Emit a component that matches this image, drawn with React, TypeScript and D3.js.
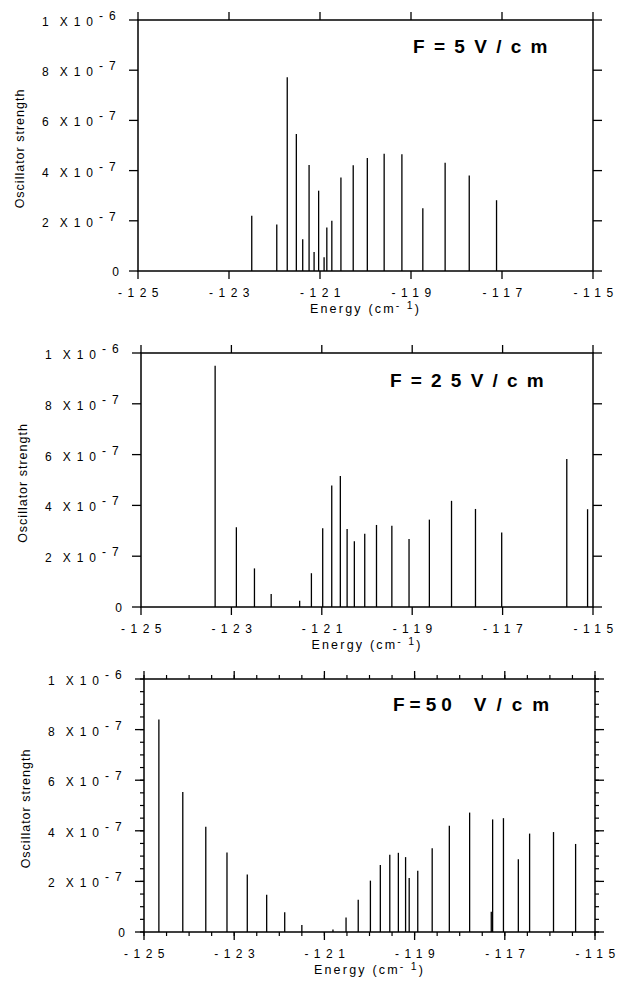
import React from "react";
import * as d3 from "d3";

// line energies (cm^-1) and oscillator strengths (units of 1e-7)
const energies5 = [-122.5, -121.95, -121.72, -121.52, -121.38, -121.24, -121.13, -121.03, -120.91, -120.85, -120.74, -120.54, -120.27, -119.96, -119.59, -119.2, -118.74, -118.25, -117.72, -117.12];
const strengths5 = [2.2, 1.85, 7.72, 5.46, 1.26, 4.22, 0.76, 3.2, 0.55, 1.73, 2.0, 3.73, 4.21, 4.5, 4.67, 4.65, 2.5, 4.31, 3.8, 2.82];

const energies25 = [-123.36, -122.89, -122.49, -122.12, -121.49, -121.23, -120.98, -120.78, -120.59, -120.44, -120.28, -120.05, -119.79, -119.45, -119.07, -118.62, -118.13, -117.6, -117.02, -115.58, -115.12];
const strengths25 = [9.5, 3.14, 1.52, 0.51, 0.25, 1.33, 3.1, 4.78, 5.16, 3.07, 2.59, 2.88, 3.23, 3.2, 2.68, 3.44, 4.18, 3.86, 2.93, 5.83, 3.85];

const energies50 = [-124.67, -124.14, -123.63, -123.16, -122.71, -122.28, -121.88, -121.5, -120.81, -120.52, -120.25, -119.98, -119.76, -119.55, -119.36, -119.2, -119.12, -118.93, -118.61, -118.23, -117.78, -117.3, -117.27, -117.03, -116.7, -116.45, -115.92, -115.43];
const strengths50 = [8.4, 5.53, 4.16, 3.14, 2.27, 1.47, 0.78, 0.28, 0.1, 0.57, 1.27, 2.03, 2.65, 3.05, 3.13, 2.96, 2.13, 2.42, 3.31, 4.2, 4.72, 0.8, 4.45, 4.5, 2.88, 3.89, 3.95, 3.48];

const xTickValues = [-125, -123, -121, -119, -117, -115];
const yTickValues = [0, 2, 4, 6, 8, 10];
const yMantissa = ["0", "2", "4", "6", "8", "1"];
const yExponent = ["", "-7", "-7", "-7", "-7", "-6"];

const FONT = "'Liberation Sans', Arial, Helvetica, sans-serif";

type PanelProps = {
  energies: number[];
  strengths: number[];
  left: number;
  right: number;
  top: number;
  bottom: number;
  minor?: boolean;
  title: React.ReactNode;
  titleX: number;
  titleY: number;
};

const Panel = (props: PanelProps) => {
  const { left, right, top, bottom, minor } = props;
  const x = d3.scaleLinear().domain([-125, -115]).range([left, right]);
  const y = d3.scaleLinear().domain([0, 10]).range([bottom, top]);

  const xMinor = minor ? d3.range(-125, -114.9, 0.5) : [];
  const yMinor = minor ? d3.range(0, 10.01, 0.5) : [];

  return (
    <g fontFamily={FONT} fill="#000">
      {/* frame */}
      <rect x={left} y={top} width={right - left} height={bottom - top} fill="none" stroke="#000" strokeWidth={1.5} />

      {/* minor ticks */}
      {xMinor.map((v, i) => (
        <g key={"xm" + i} stroke="#000" strokeWidth={1.2}>
          <line x1={x(v)} x2={x(v)} y1={top} y2={top - 4} />
          <line x1={x(v)} x2={x(v)} y1={bottom} y2={bottom + 4} />
        </g>
      ))}
      {yMinor.map((v, i) => (
        <g key={"ym" + i} stroke="#000" strokeWidth={1.2}>
          <line x1={left} x2={left - 4} y1={y(v)} y2={y(v)} />
          <line x1={right} x2={right + 4} y1={y(v)} y2={y(v)} />
        </g>
      ))}

      {/* major ticks and labels */}
      {xTickValues.map((v, i) => (
        <g key={"x" + i}>
          <line x1={x(v)} x2={x(v)} y1={top} y2={top - 8} stroke="#000" strokeWidth={1.3} />
          <line x1={x(v)} x2={x(v)} y1={bottom} y2={bottom + 8} stroke="#000" strokeWidth={1.3} />
          <text x={x(v) + 3} y={bottom + 26} fontSize={12} letterSpacing={5.5} textAnchor="middle">
            {"-" + Math.abs(v)}
          </text>
        </g>
      ))}
      {yTickValues.map((v, i) => (
        <g key={"y" + i}>
          <line x1={left} x2={left - 9} y1={y(v)} y2={y(v)} stroke="#000" strokeWidth={1.3} />
          <line x1={right} x2={right + 9} y1={y(v)} y2={y(v)} stroke="#000" strokeWidth={1.3} />
          {yExponent[i] === "" ? (
            <text x={left - 19} y={y(v) + 5} fontSize={12} textAnchor="end">
              {yMantissa[i]}
            </text>
          ) : (
            <text x={left - 96} y={y(v) + 6} fontSize={12} letterSpacing={6}>
              {yMantissa[i]}
              <tspan dx={5}>X10</tspan>
              <tspan dy={-6}>{yExponent[i]}</tspan>
            </text>
          )}
        </g>
      ))}

      {/* spectral lines */}
      {props.energies.map((e, i) => (
        <line
          key={"l" + i}
          x1={x(e)}
          x2={x(e)}
          y1={y(0)}
          y2={y(props.strengths[i])}
          stroke="#000"
          strokeWidth={1.3}
        />
      ))}

      {/* axis titles */}
      <text x={(left + right) / 2} y={bottom + 42} fontSize={12.5} letterSpacing={2.2} textAnchor="middle">
        Energy (cm
        <tspan dy={-4} fontSize={10.5}>- 1</tspan>
        <tspan dy={4}>)</tspan>
      </text>
      <text
        transform={`translate(${left - 114},${(top + bottom) / 2 + 3}) rotate(-90)`}
        fontSize={12.5}
        letterSpacing={1}
        textAnchor="middle"
      >
        Oscillator  strength
      </text>

      <text x={props.titleX} y={props.titleY} fontSize={19} fontWeight="bold">
        {props.title}
      </text>
    </g>
  );
};

const App = () => (
  <svg width={623} height={983} style={{ position: "absolute", left: 0, top: 0, background: "#fff" }}>
    <rect width={623} height={983} fill="#fff" />
    <Panel
      energies={energies5}
      strengths={strengths5}
      left={138}
      right={593}
      top={20}
      bottom={271}
      title={<tspan letterSpacing={9.3}>F=5V/cm</tspan>}
      titleX={413}
      titleY={53}
    />
    <Panel
      energies={energies25}
      strengths={strengths25}
      left={141}
      right={593}
      top={353}
      bottom={607}
      title={<tspan letterSpacing={9.2}>F=25V/cm</tspan>}
      titleX={390}
      titleY={387}
    />
    <Panel
      energies={energies50}
      strengths={strengths50}
      left={144}
      right={595}
      top={679}
      bottom={932}
      minor
      title={
        <>
          <tspan letterSpacing={5}>F=50</tspan>
          <tspan dx={17} letterSpacing={10}>V/cm</tspan>
        </>
      }
      titleX={393}
      titleY={711}
    />
  </svg>
);

export default App;
